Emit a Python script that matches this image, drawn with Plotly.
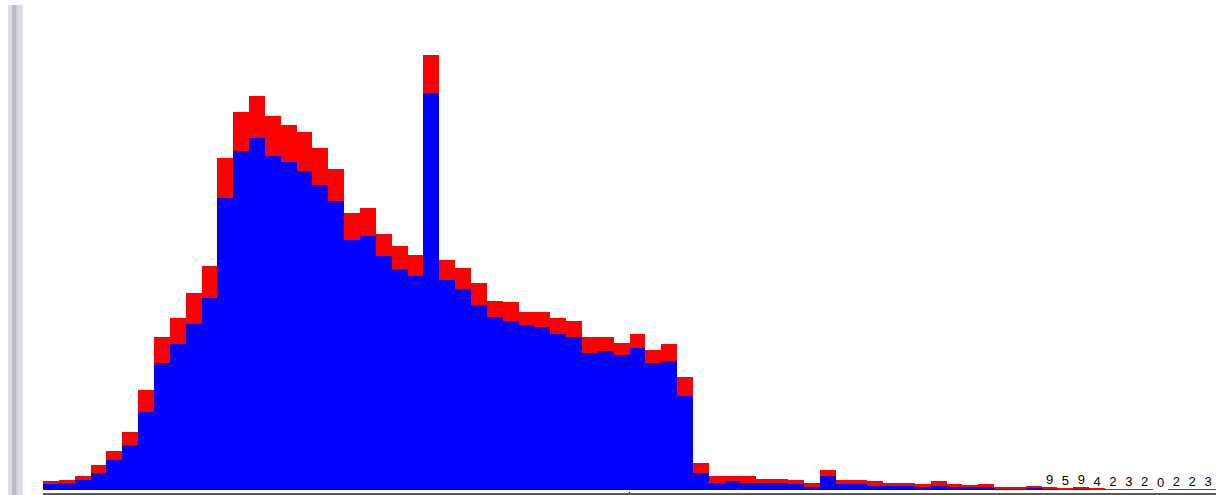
import plotly.graph_objects as go

# Histogram counts per bin: blue portion and total (blue + red stacked)
bins = list(range(74))
blue_counts = [
    19, 24, 33, 58, 100, 149, 259, 422, 486, 553,
    640, 972, 1131, 1174, 1112, 1092, 1063, 1016, 963, 833,
    848, 781, 737, 713, 1324, 699, 670, 617, 578, 564,
    550, 544, 521, 510, 458, 462, 449, 472, 424, 429,
    314, 58, 24, 29, 23, 23, 23, 19, 10, 48,
    19, 19, 14, 14, 14, 10, 14, 10, 10, 10,
    5, 5, 8, 5, 3, 5, 2, 1, 2, 1,
    0, 1, 1, 2,
]
total_counts = [
    30, 34, 48, 82, 130, 192, 332, 509, 572, 656,
    747, 1108, 1261, 1314, 1247, 1218, 1193, 1141, 1070, 924,
    939, 853, 813, 784, 1450, 766, 741, 689, 630, 627,
    592, 592, 572, 563, 510, 510, 490, 519, 468, 486,
    377, 91, 48, 48, 48, 38, 38, 32, 23, 67,
    32, 32, 29, 23, 23, 19, 29, 19, 14, 19,
    11, 11, 14, 9, 5, 9, 4, 2, 3, 2,
    0, 2, 2, 3,
]
red_counts = [t - b for t, b in zip(total_counts, blue_counts)]

# Small bins get their count written above them
label_bins = [i for i, t in zip(bins, total_counts) if t < 10]
label_vals = [total_counts[i] for i in label_bins]

W, H = 1220, 495
ML, MR, MT, MB = 43, 4, 10, 2
PLOT_W = W - ML - MR
PLOT_H = H - MT - MB


def px_x(px):
    return (px - ML) / PLOT_W


def px_y(py):
    return (H - MB - py) / PLOT_H


centers = [b + 0.5 for b in bins]

fig = go.Figure()
fig.add_trace(go.Bar(
    x=centers, y=blue_counts, width=1.0,
    marker=dict(color="#0000ff", line=dict(width=0)),
    hoverinfo="skip", showlegend=False,
))
fig.add_trace(go.Bar(
    x=centers, y=red_counts, width=1.0,
    marker=dict(color="#ff0000", line=dict(width=0)),
    hoverinfo="skip", showlegend=False,
))
fig.add_trace(go.Scatter(
    x=[centers[i] for i in label_bins],
    y=label_vals,
    mode="text",
    text=[str(v) for v in label_vals],
    textposition="top center",
    textfont=dict(family="Liberation Sans, Arial, sans-serif", size=13, color="#000000"),
    hoverinfo="skip", showlegend=False,
))

# Scale: 0.3 px per count, zero line three pixels above the plot's bottom edge
px_per_count = 0.3
y_lo = -3 / px_per_count
y_hi = y_lo + PLOT_H / px_per_count

fig.update_layout(
    width=W, height=H,
    margin=dict(l=ML, r=MR, t=MT, b=MB, pad=0),
    paper_bgcolor="#ffffff", plot_bgcolor="#ffffff",
    barmode="stack", bargap=0,
    xaxis=dict(
        range=[0, len(bins)], showgrid=False, zeroline=False,
        showline=True, linecolor="#595959", linewidth=2,
        tickvals=[0, 37, 74], ticks="inside", ticklen=1, tickwidth=1,
        tickcolor="#222222",
        showticklabels=False, fixedrange=True,
    ),
    yaxis=dict(
        range=[y_lo, y_hi], showgrid=False, zeroline=False,
        showline=False, showticklabels=False, ticks="", fixedrange=True,
    ),
    shapes=[
        # left splitter bar
        dict(type="rect", xref="paper", yref="paper",
             x0=px_x(8), x1=px_x(22.7), y0=px_y(H), y1=px_y(5),
             fillcolor="#d9dce3", line=dict(width=0), layer="above"),
        dict(type="rect", xref="paper", yref="paper",
             x0=px_x(12), x1=px_x(16.3), y0=px_y(H), y1=px_y(5),
             fillcolor="#b9bcc3", line=dict(width=0), layer="above"),
        dict(type="rect", xref="paper", yref="paper",
             x0=px_x(16.3), x1=px_x(17.3), y0=px_y(H), y1=px_y(5),
             fillcolor="#c8cbd2", line=dict(width=0), layer="above"),
    ],
)

fig.write_html("out.html")
